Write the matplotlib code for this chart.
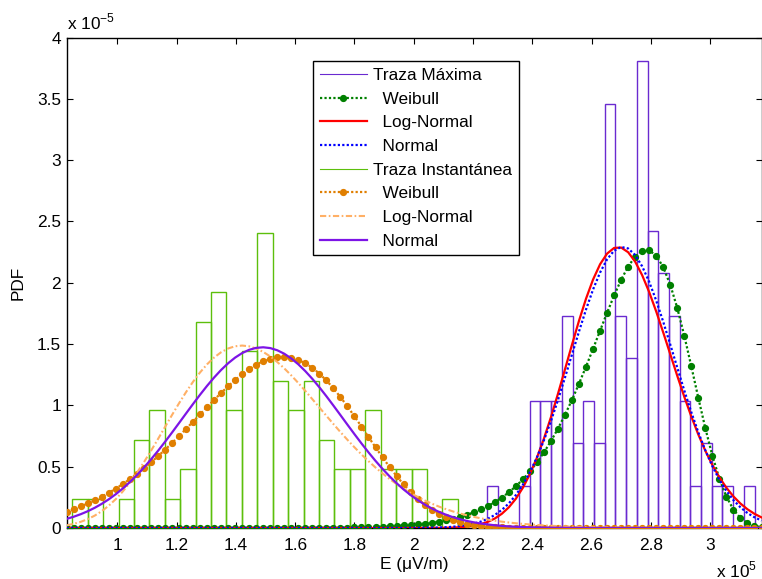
import numpy as np
import matplotlib
matplotlib.use("Agg")
import matplotlib.pyplot as plt
from matplotlib.lines import Line2D

plt.rcParams['font.family'] = ['Liberation Sans', 'DejaVu Sans']
plt.rcParams['mathtext.fontset'] = 'custom'
plt.rcParams['mathtext.rm'] = 'Liberation Sans'

# ---- histogram data (counts per bin, 80 samples each) ----
n_samples = 80

# Traza Máxima: 25 bins
max_bin_start = 2.2472e5
max_bin_width = 0.03612e5
max_counts = [1, 0, 0, 1, 3, 3, 3, 5, 2, 3, 2, 10, 5, 4, 11, 7, 6, 5, 3, 1, 2, 1, 1, 0, 1]

# Traza Instantánea: 25 bins
inst_bin_start = 0.8476e5
inst_bin_width = 0.05204e5
inst_counts = [1, 1, 0, 1, 3, 4, 1, 2, 7, 8, 4, 6, 10, 5, 4, 5, 3, 2, 2, 4, 2, 2, 2, 0, 1]

# ---- fitted distribution parameters ----
# Traza Máxima
max_weib_k, max_weib_lam = 17.2, 2.795e5
max_logn_median, max_logn_sigma = 2.7012e5, 0.0646
max_norm_mu, max_norm_sigma = 2.705e5, 0.174e5
# Traza Instantánea
inst_weib_k, inst_weib_lam = 6.0, 1.606e5
inst_logn_median, inst_logn_sigma = 1.4698e5, 0.1856
inst_norm_mu, inst_norm_sigma = 1.490e5, 0.2707e5

x_range = (0.8287e5, 3.1737e5)
n_eval = 100

x_ticks = [1.0, 1.2, 1.4, 1.6, 1.8, 2.0, 2.2, 2.4, 2.6, 2.8, 3.0]
y_ticks = [0, 0.5, 1, 1.5, 2, 2.5, 3, 3.5, 4]

labels = ['Traza Máxima', '  Weibull', '  Log-Normal', '  Normal',
          'Traza Instantánea', '  Weibull', '  Log-Normal', '  Normal']

FS = 12.4


def weibull_pdf(x, k, lam):
    z = x / lam
    return (k / lam) * z ** (k - 1) * np.exp(-z ** k)


def lognormal_pdf(x, median, s):
    return np.exp(-(np.log(x / median)) ** 2 / (2 * s ** 2)) / (x * s * np.sqrt(2 * np.pi))


def normal_pdf(x, mu, s):
    return np.exp(-(x - mu) ** 2 / (2 * s ** 2)) / (s * np.sqrt(2 * np.pi))


fig = plt.figure(figsize=(7.62, 5.79), dpi=100)
ax = fig.add_axes([66.7 / 762, 1 - 528 / 579, (761.5 - 66.7) / 762, (528 - 37.5) / 579])

c_max_hist = '#6a2ad0'
c_max_weib = '#008000'
c_max_logn = '#ff0000'
c_max_norm = '#0000ff'
c_inst_hist = '#5cbf0c'
c_inst_weib = '#e07f00'
c_inst_logn = '#ffb066'
c_inst_norm = '#7d14e6'

dotted = (0, (1, 1))
dashdot = (0, (3, 1.2, 0.8, 1.2))
msize = 4.2


def draw_hist(start, width, counts, color):
    counts = np.asarray(counts, dtype=float)
    centers = start + width * (np.arange(len(counts)) + 0.5)
    dens = counts / (n_samples * width)
    ax.bar(centers, dens, width=width, fill=False, edgecolor=color, linewidth=1.0, zorder=2)


x = np.linspace(x_range[0], x_range[1], n_eval)

draw_hist(max_bin_start, max_bin_width, max_counts, c_max_hist)
ax.plot(x, weibull_pdf(x, max_weib_k, max_weib_lam), color=c_max_weib, linestyle=dotted,
        linewidth=1.6, marker='o', markersize=msize, zorder=3)
ax.plot(x, lognormal_pdf(x, max_logn_median, max_logn_sigma), color=c_max_logn,
        linewidth=1.6, zorder=3)
ax.plot(x, normal_pdf(x, max_norm_mu, max_norm_sigma), color=c_max_norm, linestyle=dotted,
        linewidth=1.6, zorder=3)

draw_hist(inst_bin_start, inst_bin_width, inst_counts, c_inst_hist)
ax.plot(x, weibull_pdf(x, inst_weib_k, inst_weib_lam), color=c_inst_weib, linestyle=dotted,
        linewidth=1.6, marker='o', markersize=msize, zorder=3)
ax.plot(x, lognormal_pdf(x, inst_logn_median, inst_logn_sigma), color=c_inst_logn,
        linestyle=dashdot, linewidth=1.5, zorder=3)
ax.plot(x, normal_pdf(x, inst_norm_mu, inst_norm_sigma), color=c_inst_norm,
        linewidth=1.6, zorder=3)

ax.set_xlim(*x_range)
ax.set_ylim(0, 4e-5)
ax.set_xticks([t * 1e5 for t in x_ticks])
ax.set_xticklabels(['%g' % t for t in x_ticks])
ax.set_yticks([t * 1e-5 for t in y_ticks])
ax.set_yticklabels(['%g' % t for t in y_ticks])
ax.tick_params(direction='in', top=True, right=True, length=4, width=0.8,
               labelsize=FS, colors='black')
ax.tick_params(axis='x', pad=7)
ax.tick_params(axis='y', pad=4)
for sp in ax.spines.values():
    sp.set_linewidth(1.0)
    sp.set_color('black')

ax.set_xlabel('E (μV/m)', fontsize=FS, labelpad=3)
ax.set_ylabel('PDF', fontsize=FS, labelpad=8)

fig.text(67 / 762, 1 - 22 / 579, r'x 10$^{\mathregular{-5}}$', fontsize=FS,
         ha='left', va='center')
fig.text(757 / 762, 1 - 570 / 579, r'x 10$^{\mathregular{5}}$', fontsize=FS,
         ha='right', va='center')

handles = [
    Line2D([], [], color=c_max_hist, linewidth=0.8),
    Line2D([], [], color=c_max_weib, linestyle=dotted, linewidth=1.6, marker='o', markersize=msize),
    Line2D([], [], color=c_max_logn, linewidth=1.6),
    Line2D([], [], color=c_max_norm, linestyle=dotted, linewidth=1.6),
    Line2D([], [], color=c_inst_hist, linewidth=0.8),
    Line2D([], [], color=c_inst_weib, linestyle=dotted, linewidth=1.6, marker='o', markersize=msize),
    Line2D([], [], color=c_inst_logn, linestyle=dashdot, linewidth=1.5),
    Line2D([], [], color=c_inst_norm, linewidth=1.6),
]
leg = ax.legend(handles, labels, loc='upper left', bbox_to_anchor=(0.3541, 0.9521),
                borderaxespad=0, fontsize=FS, numpoints=1, handlelength=2.77,
                handletextpad=0.33, labelspacing=0.5, borderpad=0.4,
                fancybox=False, framealpha=1, edgecolor='black')
leg.get_frame().set_linewidth(1.0)

fig.savefig('out.png', dpi=100)
